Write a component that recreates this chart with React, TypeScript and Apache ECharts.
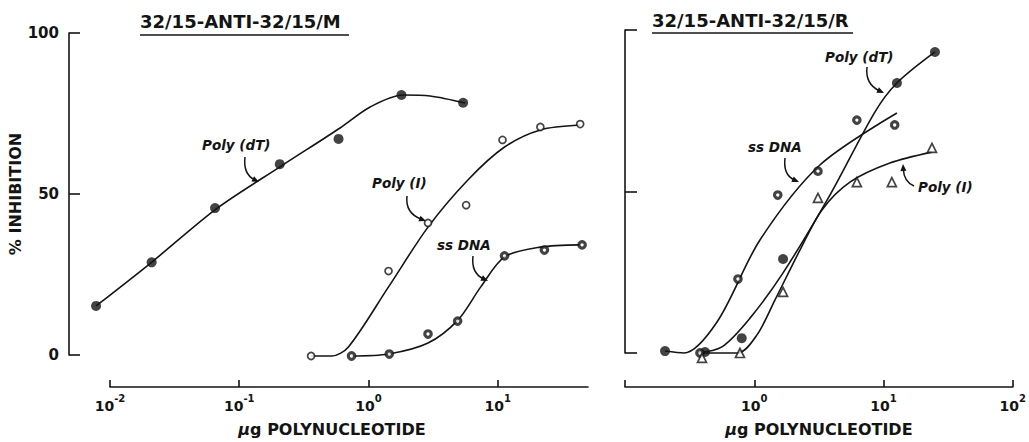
import React, { useEffect, useRef } from "react";
import * as echarts from "echarts";

// ---------- axis ticks ----------
const mDecadeTicks = [0.01, 0.1, 1, 10];
const rDecadeTicks = [0.1, 1, 10, 100];
const rLabelledTicks = [1, 10, 100];

// ---------- panel 32/15-ANTI-32/15/M (left): measured points ----------
const mPolyDTPoints: [number, number][] = [
  [0.0078, 15.5], [0.021, 29], [0.065, 45.8], [0.206, 59.4], [0.587, 67.2], [1.8, 80.8], [5.4, 78.4],
];
const mPolyIPoints: [number, number][] = [
  [0.36, 0], [1.43, 26.3], [2.89, 41.2], [5.7, 46.7], [10.9, 66.9], [21.4, 70.9], [43.5, 71.8],
];
const mSsDNAPoints: [number, number][] = [
  [0.74, 0], [1.45, 0.6], [2.89, 6.8], [4.9, 10.8], [11.3, 31], [23, 32.8], [45, 34.4],
];
// fitted curves
const mPolyDTCurve: [number, number][] = [
  [0.0078, 15.5], [0.0211, 29.1], [0.0661, 45.5], [0.211, 58.8], [0.603, 70.6], [1.03, 77.1], [1.85, 80.8], [3.0, 80.5], [5.6, 78.3],
];
const mPolyICurve: [number, number][] = [
  [0.36, 0], [0.52, 0], [0.7, 2.8], [1.43, 21.4], [2.89, 39.9], [5.88, 54.5], [11.3, 64.7], [21.4, 70], [43.5, 71.5],
];
const mSsDNACurve: [number, number][] = [
  [0.74, 0], [1.43, 0.6], [2.89, 4.0], [4.92, 11.1], [7.4, 21.4], [11.3, 30.7], [21.4, 33.7], [43.5, 34.4],
];

// ---------- panel 32/15-ANTI-32/15/R (right): measured points ----------
const rPolyDTPoints: [number, number][] = [
  [0.204, 0.6], [0.416, 0.3], [0.8, 4.6], [1.67, 29.1], [12.7, 83.6], [25, 93.2],
];
const rSsDNAPoints: [number, number][] = [
  [0.38, 0], [0.748, 22.9], [1.52, 48.9], [3.11, 56.3], [6.22, 72.1], [12.2, 70.6],
];
const rPolyIPoints: [number, number][] = [
  [0.394, -1.5], [0.775, 0], [1.67, 18.9], [3.11, 48], [6.22, 52.9], [11.6, 52.9], [23.7, 63.5],
];
const rSsDNACurve: [number, number][] = [
  [0.204, 0.6], [0.286, 0], [0.515, 9.6], [1.107, 35], [3.22, 58.2], [12.7, 74.3],
];
const rPolyDTCurve: [number, number][] = [
  [0.361, 0], [0.562, 1.9], [0.927, 10.8], [1.67, 24.8], [3.85, 48.9], [8.57, 74.6], [12.7, 83.6], [25, 93.2],
];
const rPolyICurve: [number, number][] = [
  [0.38, 0], [0.748, 0], [1.05, 5.6], [1.445, 16.4], [2.26, 31.9], [3.34, 44.3], [5.5, 52.9], [11.2, 58.8], [23.7, 62.2],
];

const INK = "#141414";
const FONT = '"DejaVu Sans", sans-serif';

// left panel geometry: axis drawn from 10^-2; data area extends 20px further left
const M_AXIS_MIN = 0.01;
const M_AXIS_MAX = 50;
const M_WIDTH = 478;
const M_EXTRA = 20;
const M_DATA_MIN = M_AXIS_MIN / Math.pow(10, M_EXTRA / (M_WIDTH / Math.log10(M_AXIS_MAX / M_AXIS_MIN)));

function supLabel(v: number) {
  const e = Math.round(Math.log10(v));
  return "{b|10}{s|" + (e < 0 ? "-" + Math.abs(e) : String(e)) + "}";
}

const tickRich = {
  b: { fontSize: 14, fontWeight: "bold", fontFamily: FONT, color: INK, lineHeight: 20, verticalAlign: "bottom" },
  s: { fontSize: 10, fontWeight: "bold", fontFamily: FONT, color: INK, lineHeight: 20, verticalAlign: "top" },
};

function curveSeries(data: [number, number][], xi: number) {
  return {
    type: "line",
    xAxisIndex: xi,
    yAxisIndex: xi,
    data,
    showSymbol: false,
    symbol: "none",
    smooth: 0.3,
    clip: false,
    silent: true,
    lineStyle: { color: INK, width: 1.6 },
    z: 2,
  };
}

function pointSeries(data: [number, number][], xi: number, kind: string) {
  let symbol = "circle";
  let symbolSize = 10;
  let itemStyle: any = { color: INK };
  if (kind === "open") {
    symbolSize = 7;
    itemStyle = { color: "#fff", borderColor: INK, borderWidth: 1.7 };
  } else if (kind === "half") {
    symbolSize = 6.5;
    itemStyle = { color: "#fff", borderColor: INK, borderWidth: 3.2 };
  } else if (kind === "tri") {
    symbol = "triangle";
    symbolSize = 9;
    itemStyle = { color: "#fff", borderColor: INK, borderWidth: 1.7 };
  }
  return {
    type: "scatter",
    xAxisIndex: xi,
    yAxisIndex: xi,
    data,
    symbol,
    symbolSize,
    itemStyle,
    clip: false,
    silent: true,
    z: 4,
  };
}

function arrow(x1: number, y1: number, cx: number, cy: number, x2: number, y2: number) {
  const dx = x2 - cx;
  const dy = y2 - cy;
  const L = Math.sqrt(dx * dx + dy * dy) || 1;
  const ux = dx / L;
  const uy = dy / L;
  const len = 7;
  const half = 3;
  const bx = x2 - ux * len;
  const by = y2 - uy * len;
  return [
    {
      type: "bezierCurve",
      shape: { x1, y1, cpx1: cx, cpy1: cy, x2: bx + ux * 2, y2: by + uy * 2 },
      style: { stroke: INK, lineWidth: 1.5, fill: null },
      silent: true,
    },
    {
      type: "polygon",
      shape: {
        points: [
          [x2, y2],
          [bx - uy * half, by + ux * half],
          [bx + uy * half, by - ux * half],
        ],
      },
      style: { fill: INK },
      silent: true,
    },
  ];
}

function note(text: string, x: number, y: number) {
  return {
    type: "text",
    x,
    y,
    style: {
      text,
      font: 'italic bold 13.5px "DejaVu Sans", sans-serif',
      fill: INK,
      textAlign: "left",
      textVerticalAlign: "middle",
      align: "left",
      verticalAlign: "middle",
    },
    silent: true,
  };
}

function title(text: string, x: number, y: number, x2: number, uy: number) {
  return [
    {
      type: "text",
      x,
      y,
      style: {
        text,
        font: 'bold 18px "DejaVu Sans", sans-serif',
        fill: INK,
        textAlign: "left",
        textVerticalAlign: "middle",
        align: "left",
        verticalAlign: "middle",
      },
      silent: true,
    },
    {
      type: "line",
      shape: { x1: x, y1: uy, x2, y2: uy },
      style: { stroke: INK, lineWidth: 1.6 },
      silent: true,
    },
  ];
}

export default function App() {
  const ref = useRef<HTMLDivElement>(null);

  useEffect(() => {
    if (!ref.current) return;
    const chart = echarts.init(ref.current, null, { renderer: "svg" });

    const axisLineStyle = { color: INK, width: 1.6 };
    const nameRich = {
      m: { fontSize: 16, fontStyle: "italic", fontWeight: "bold", fontFamily: FONT, color: INK },
      t: { fontSize: 16, fontWeight: "bold", fontFamily: FONT, color: INK },
    };

    const option: any = {
      animation: false,
      backgroundColor: "#fff",
      grid: [
        { left: 110, top: 33, width: M_WIDTH, height: 323 },
        { left: 625, top: 30, width: 388, height: 323 },
        { left: 110 - M_EXTRA, top: 33, width: M_WIDTH + M_EXTRA, height: 323 },
      ],
      xAxis: [
        {
          gridIndex: 0,
          type: "log",
          logBase: 10,
          min: M_AXIS_MIN,
          max: M_AXIS_MAX,
          offset: 32,
          axisLine: { show: true, onZero: false, lineStyle: axisLineStyle },
          axisTick: { show: true, inside: true, length: 7, customValues: mDecadeTicks, lineStyle: axisLineStyle },
          axisLabel: {
            show: true,
            customValues: mDecadeTicks,
            margin: 6,
            formatter: (v: number) => supLabel(v),
            rich: tickRich,
          },
          splitLine: { show: false },
          minorTick: { show: false },
          name: "{m|μ}{t|g POLYNUCLEOTIDE}",
          nameLocation: "middle",
          nameGap: 34,
          nameTextStyle: { padding: [0, 34, 0, 0], rich: nameRich },
        },
        {
          gridIndex: 1,
          type: "log",
          logBase: 10,
          min: 0.1,
          max: 100,
          offset: 34,
          axisLine: { show: true, onZero: false, lineStyle: axisLineStyle },
          axisTick: { show: true, inside: true, length: 7, customValues: rDecadeTicks, lineStyle: axisLineStyle },
          axisLabel: {
            show: true,
            customValues: rLabelledTicks,
            margin: 6,
            formatter: (v: number) => supLabel(v),
            rich: tickRich,
          },
          splitLine: { show: false },
          minorTick: { show: false },
          name: "{m|μ}{t|g POLYNUCLEOTIDE}",
          nameLocation: "middle",
          nameGap: 34,
          nameTextStyle: { rich: nameRich },
        },
        {
          gridIndex: 2,
          type: "log",
          logBase: 10,
          min: M_DATA_MIN,
          max: M_AXIS_MAX,
          show: false,
        },
      ],
      yAxis: [
        {
          gridIndex: 0,
          type: "value",
          min: 0,
          max: 100,
          interval: 50,
          offset: 41,
          axisLine: { show: true, onZero: false, lineStyle: axisLineStyle },
          axisTick: { show: true, inside: true, length: 11, lineStyle: axisLineStyle },
          axisLabel: { show: true, margin: 10, fontSize: 15, fontWeight: "bold", fontFamily: FONT, color: INK },
          splitLine: { show: false },
          name: "% INHIBITION",
          nameLocation: "middle",
          nameGap: 42,
          nameRotate: 90,
          nameTextStyle: { fontSize: 16, fontWeight: "bold", fontFamily: FONT, color: INK },
        },
        {
          gridIndex: 1,
          type: "value",
          min: 0,
          max: 100,
          interval: 50,
          offset: 0,
          axisLine: { show: true, onZero: false, lineStyle: axisLineStyle },
          axisTick: { show: true, inside: true, length: 12, lineStyle: axisLineStyle },
          axisLabel: { show: false },
          splitLine: { show: false },
        },
        {
          gridIndex: 2,
          type: "value",
          min: 0,
          max: 100,
          interval: 50,
          show: false,
        },
      ],
      series: [
        curveSeries(mPolyDTCurve, 2),
        curveSeries(mPolyICurve, 2),
        curveSeries(mSsDNACurve, 2),
        pointSeries(mPolyDTPoints, 2, "filled"),
        pointSeries(mPolyIPoints, 2, "open"),
        pointSeries(mSsDNAPoints, 2, "half"),
        curveSeries(rSsDNACurve, 1),
        curveSeries(rPolyDTCurve, 1),
        curveSeries(rPolyICurve, 1),
        pointSeries(rPolyDTPoints, 1, "filled"),
        pointSeries(rSsDNAPoints, 1, "half"),
        pointSeries(rPolyIPoints, 1, "tri"),
      ],
      graphic: [
        ...title("32/15-ANTI-32/15/M", 140, 21, 349, 35),
        ...title("32/15-ANTI-32/15/R", 652, 20, 853, 33),
        note("Poly (dT)", 202, 145),
        ...arrow(245, 157, 243, 174, 259, 182),
        note("Poly (I)", 372, 183),
        ...arrow(407, 196, 405, 213, 426, 221),
        note("ss DNA", 437, 245),
        ...arrow(473, 256, 471, 273, 488, 281),
        note("Poly (dT)", 825, 57),
        ...arrow(867, 67, 865, 84, 884, 93),
        note("ss DNA", 748, 147),
        ...arrow(785, 158, 783, 175, 799, 182),
        note("Poly (I)", 918, 187),
        ...arrow(914, 186, 904, 182, 903, 164),
      ],
    };

    chart.setOption(option);
    return () => chart.dispose();
  }, []);

  return (
    <div
      ref={ref}
      style={{ position: "fixed", left: 0, top: 0, width: "1029px", height: "442px", background: "#fff" }}
    />
  );
}
